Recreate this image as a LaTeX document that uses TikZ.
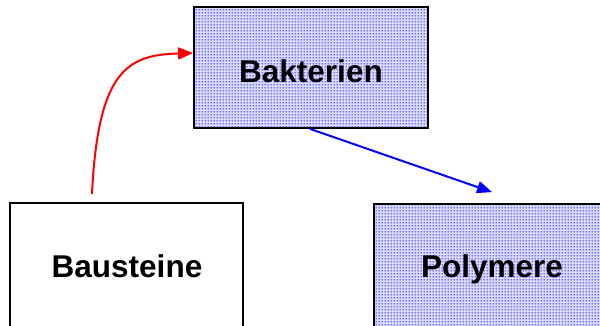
\documentclass[tikz,border=0pt]{standalone}
\usepackage{fontspec}
\setmainfont{Liberation Sans}
\usetikzlibrary{arrows.meta,patterns.meta}
\tikzdeclarepattern{name=bluedots, type=uncolored, bounding box={(0,0) and (3pt,3pt)}, tile size={(3pt,3pt)}, code={\fill (1.5pt,1.5pt) circle (0.85pt);}}
\tikzset{
  box/.style={draw=black, line width=1.8pt, rectangle, inner sep=0pt},
  dotbox/.style={box, preaction={fill=blue!14}, pattern=bluedots, pattern color=blue},
  lbl/.style={font=\fontsize{31.5}{33}\selectfont\bfseries, inner sep=0pt, anchor=base},
  conn/.style={line width=2pt, -{Triangle[length=15pt,width=12pt]}}
}
\begin{document}
\begin{tikzpicture}[x=1pt,y=-1pt]
\useasboundingbox (0,0) rectangle (600,325);
\node[dotbox, minimum width=234pt, minimum height=121pt] (bak) at (311,67.5) {};
\node[box, fill=white, minimum width=233pt, minimum height=142pt] (bau) at (126.5,274) {};
\node[dotbox, minimum width=236pt, minimum height=142pt] (pol) at (492,275) {};
\node[lbl] (tbak) at (311,82) {Bakterien};
\node[lbl] (tbau) at (127,277) {Bausteine};
\node[lbl] (tpol) at (492,277) {Polymere};
\draw[conn, red] ([xshift=-34.5pt, yshift=8pt]bau.north) .. controls +(6,-125) and +(-65,2) .. ([yshift=14.5pt]bak.west);
\draw[conn, blue] ([xshift=-1pt]bak.south) -- ([yshift=11pt]pol.north);
\end{tikzpicture}
\end{document}
